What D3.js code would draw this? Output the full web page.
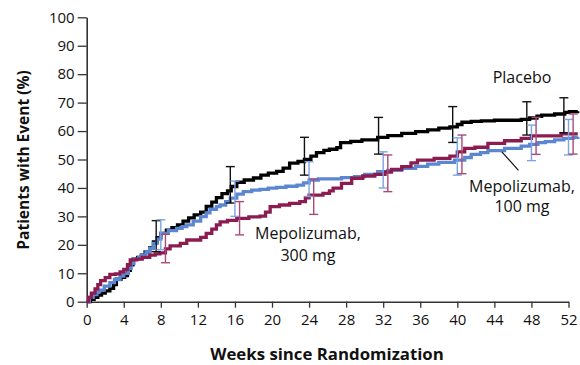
<!DOCTYPE html>
<html>
<head>
<meta charset="utf-8">
<script src="https://cdn.jsdelivr.net/npm/d3@7"></script>
<style>
  html, body { margin: 0; padding: 0; background: #fff; }
  svg { display: block; }
  text { font-family: "Open Sans", "Noto Sans", sans-serif; fill: #111; }
</style>
</head>
<body>
<svg id="chart" width="580" height="365"></svg>
<script>
// Cumulative incidence of exacerbation (%), by week since randomization
const placebo = [
  [0,0],[0.4,0.8],[0.8,1.5],[1.2,2.3],[1.6,3],[2.0,3.8],[2.5,4.7],[2.9,6],[3.2,7.9],[3.7,8.6],
  [4.1,9.2],[4.4,11],[4.7,13],[5.0,15],[5.5,15.6],[5.9,16.4],[6.3,17.5],[6.8,19],[7.2,21],[7.6,22.5],
  [8.0,24],[8.6,25.2],[9.2,26],[9.8,27],[10.4,28.3],[11.0,29.5],[11.6,30.5],[12.3,31.5],[12.9,33.5],
  [13.5,35],[14.0,36.6],[14.6,38],[15.2,39],[15.6,40.5],[16.2,42],[17.0,42.8],[18.0,43.5],[18.8,44.5],
  [19.6,45.2],[20.5,45.8],[21.2,47],[21.9,48.7],[22.8,49.3],[23.5,50],[24.2,51.2],[24.8,52.4],
  [25.6,53.2],[26.2,53.6],[27.0,54.2],[27.4,55.9],[28.5,56.4],[29.7,56.9],[31.4,57.8],[32.5,58.4],
  [34.0,59.2],[35.5,59.8],[36.8,60.4],[38.0,61],[39.2,61.5],[40.0,62.3],[40.5,63.1],[41.5,63.4],
  [42.6,63.6],[44,63.8],[46.9,64.1],[47.8,64.6],[48.6,65.2],[49.1,65.6],[50.5,66],[51.6,66.6],
  [52.1,66.8],[53,67]
];
const mepo100 = [
  [0,0],[0.3,1.5],[0.7,2.5],[1.1,3.5],[1.4,4.1],[1.9,5.5],[2.5,6.7],[3.0,7.8],[3.6,9],[4.0,10],
  [4.5,11.7],[4.8,13.5],[5.1,15],[5.6,15.6],[5.9,16.4],[6.4,17.5],[6.8,18.8],[7.2,20.5],[7.6,22],
  [8.0,24],[8.8,25],[9.7,25.8],[10.3,26.4],[10.8,27],[11.5,28.3],[12.3,29.9],[12.9,31.2],[13.3,32.5],
  [14.0,33.4],[14.4,34],[15.0,35.2],[15.5,36.4],[16.2,37.8],[16.9,38.7],[17.8,39.2],[18.7,39.5],
  [19.6,39.9],[20.5,40.2],[21.5,40.6],[22.7,41],[23.4,41.8],[24,42.8],[25,43.2],[26.8,43.2],
  [27.5,43.6],[28.9,44],[30,44.8],[31.4,45.7],[32.5,46.2],[34,46.9],[35.5,47.6],[36.8,48.4],[38,49],
  [39.7,49.8],[40.8,50.7],[41.5,51.8],[42.5,52.4],[43.3,53.1],[45.1,53.9],[46.9,54.7],[47.8,55.3],
  [48.7,55.9],[49.5,56.3],[50.5,56.9],[51.5,57.4],[52.5,57.8],[53,58]
];
const mepo300 = [
  [0,0],[0.2,1.5],[0.5,3],[0.9,4.5],[1.2,6],[1.5,7.4],[2.0,8.5],[2.5,9.6],[3.1,9.8],[3.6,10.5],
  [4.0,11.4],[4.4,13],[4.7,14.7],[5.4,15],[6.0,15.6],[6.8,16.4],[7.4,16.8],[7.9,17.2],[8.5,18.6],
  [9.0,19.6],[10.1,20.5],[10.8,21.7],[12.3,22.6],[12.9,24],[13.5,25.5],[14.0,27],[14.4,28.1],
  [15.2,28.6],[16.2,29.3],[17.5,29.8],[18.7,30.1],[19.3,31.5],[19.8,33.4],[20.8,34],[21.9,34.6],
  [23,35.2],[23.6,36.5],[24,37.5],[25.5,38.1],[26.2,39],[26.6,39.9],[27.5,41.6],[28.6,43.4],
  [29.8,44.2],[31.1,44.8],[32.2,45.6],[32.9,46.5],[34,47.5],[35,48.8],[35.7,49.8],[37.5,50.4],
  [39.2,51.2],[40,52.7],[40.8,53.9],[41.9,54.3],[43.3,55.7],[45.1,56.6],[46.9,57.4],[48,58.3],
  [50.5,58.3],[51.2,59],[53,59]
];

// 95% confidence intervals at the scheduled visits
const ciWeeks = [8, 16, 24, 32, 40, 48, 52];
const placeboLow  = [17.6, 34.7, 44.5, 51.9, 56.0, 58.6, 59.4];
const placeboHigh = [28.5, 47.5, 57.8, 64.8, 68.6, 70.3, 71.7];
const mepo100Low  = [18.3, 30.0, 37.0, 40.0, 44.5, 49.6, 51.6];
const mepo100High = [28.8, 42.4, 49.2, 52.7, 57.6, 62.1, 64.1];
const mepo300Low  = [13.7, 23.5, 30.7, 38.7, 45.0, 51.8, 51.9];
const mepo300High = [23.7, 35.2, 43.1, 51.6, 58.6, 64.8, 66.0];

const xTicks = [0, 4, 8, 12, 16, 20, 24, 28, 32, 36, 40, 44, 48, 52];
const yTicks = [0, 10, 20, 30, 40, 50, 60, 70, 80, 90, 100];

const svg = d3.select("#chart");
const x = d3.scaleLinear().domain([0, 52]).range([86.7, 568.5]);
const y = d3.scaleLinear().domain([0, 100]).range([301.7, 17.3]);

// axes
const axisColor = "#333";
const gx = svg.append("g").attr("transform", `translate(0,${y(0)})`)
  .call(d3.axisBottom(x).tickValues(xTicks).tickSize(6).tickPadding(4).tickSizeOuter(0));
const gy = svg.append("g").attr("transform", `translate(${x(0)},0)`)
  .call(d3.axisLeft(y).tickValues(yTicks).tickSize(9).tickPadding(3).tickSizeOuter(0));
[gx, gy].forEach(g => {
  g.select(".domain").attr("stroke", axisColor).attr("stroke-width", 1.6);
  g.selectAll(".tick line").attr("stroke", axisColor).attr("stroke-width", 1.3);
  g.selectAll(".tick text").attr("font-family", "'Open Sans', sans-serif")
    .attr("font-size", 15).attr("fill", "#111");
});
gx.selectAll(".tick text").attr("dy", "0.9em");

// axis titles
svg.append("text")
  .attr("x", 327).attr("y", 360)
  .attr("text-anchor", "middle")
  .attr("font-size", 16.8).attr("font-weight", "bold")
  .text("Weeks since Randomization");
svg.append("text")
  .attr("transform", "translate(29,160) rotate(-90)")
  .attr("text-anchor", "middle")
  .attr("font-size", 15.5).attr("font-weight", "bold")
  .text("Patients with Event (%)");

const groups = [
  { name: "placebo", data: placebo, low: placeboLow, high: placeboHigh, offset: -0.5, line: "#000000", bar: "#111111" },
  { name: "mepo100", data: mepo100, low: mepo100Low, high: mepo100High, offset: 0, line: "#5b86d2", bar: "#7ea3e2" },
  { name: "mepo300", data: mepo300, low: mepo300Low, high: mepo300High, offset: 0.5, line: "#8c1c50", bar: "#a84a78" }
];

const line = d3.line().x(d => x(d[0])).y(d => y(d[1])).curve(d3.curveStepAfter);

// step curves
groups.forEach(g => {
  svg.append("path")
    .datum(g.data)
    .attr("fill", "none")
    .attr("stroke", g.line)
    .attr("stroke-width", 3.3)
    .attr("stroke-linejoin", "miter")
    .attr("d", line);
});

// confidence-interval bars
const cap = 4.5;
groups.forEach(g => {
  const bars = svg.append("g").attr("stroke", g.bar).attr("stroke-width", 1.4).attr("fill", "none");
  ciWeeks.forEach((w, i) => {
    const cx = x(w + g.offset), y1 = y(g.low[i]), y2 = y(g.high[i]);
    bars.append("line").attr("x1", cx).attr("x2", cx).attr("y1", y1).attr("y2", y2);
    bars.append("line").attr("x1", cx - cap).attr("x2", cx + cap).attr("y1", y1).attr("y2", y1);
    bars.append("line").attr("x1", cx - cap).attr("x2", cx + cap).attr("y1", y2).attr("y2", y2);
  });
});

// curve labels
const labelSize = 16;
svg.append("text").attr("x", 522).attr("y", 83).attr("text-anchor", "middle")
  .attr("font-size", labelSize).text("Placebo");

const l300 = svg.append("text").attr("text-anchor", "middle").attr("font-size", labelSize);
l300.append("tspan").attr("x", 308).attr("y", 239).text("Mepolizumab,");
l300.append("tspan").attr("x", 308).attr("y", 261).text("300 mg");

const l100 = svg.append("text").attr("text-anchor", "middle").attr("font-size", labelSize);
l100.append("tspan").attr("x", 522).attr("y", 192).text("Mepolizumab,");
l100.append("tspan").attr("x", 522).attr("y", 212).text("100 mg");

// leader from the 100 mg label to its curve
svg.append("line")
  .attr("x1", x(44.8)).attr("y1", y(52.7))
  .attr("x2", x(46.6)).attr("y2", y(46.2))
  .attr("stroke", "#111").attr("stroke-width", 1.2);
</script>
</body>
</html>
